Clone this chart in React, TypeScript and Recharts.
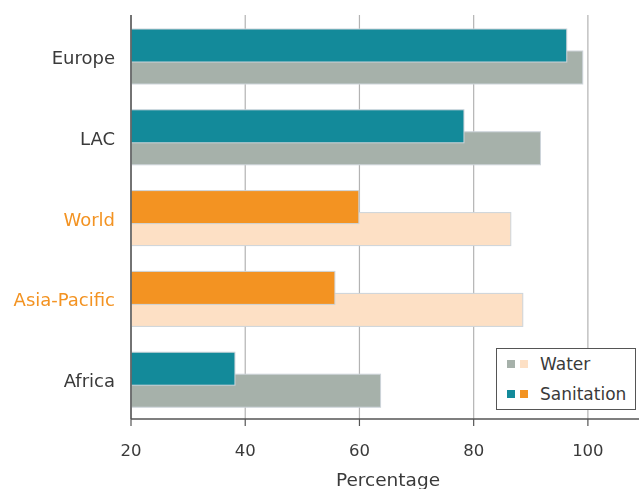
import React from 'react';
import { BarChart, Bar, XAxis, YAxis, CartesianGrid } from 'recharts';

const regions = ['Europe', 'LAC', 'World', 'Asia-Pacific', 'Africa'];
const sanitation = [96.3, 78.3, 59.9, 55.7, 38.2];
const water = [99.1, 91.7, 86.5, 88.6, 63.7];
const highlighted = ['World', 'Asia-Pacific'];
const xTicks = [20, 40, 60, 80, 100];

const data = regions.map((region, i) => ({
  region,
  sanitation: sanitation[i],
  water: water[i],
}));

const FONT = '"DejaVu Sans", sans-serif';
const TEXT = '#3a3a3a';
const ORANGE = '#f39322';
const TEAL = '#138a9a';
const GRAY = '#a6b1aa';
const PEACH = '#fde0c5';
const BORDER = '#cdd4da';

// Both series share the same slot in the band; each is nudged vertically so
// the sanitation bar sits above and overlaps the water bar.
const makeShape = (dy: number, normal: string, hi: string) => (props: any) => {
  const { x, y, width, height, payload } = props;
  const fill = highlighted.includes(payload.region) ? hi : normal;
  return (
    <rect
      x={x}
      y={y + dy}
      width={width}
      height={height}
      fill={fill}
      stroke={BORDER}
      strokeWidth={1}
    />
  );
};

const RegionTick = (props: any) => {
  const { x, y, payload } = props;
  const color = highlighted.includes(payload.value) ? ORANGE : TEXT;
  return (
    <text
      x={x}
      y={y + 2}
      textAnchor="end"
      dominantBaseline="central"
      fill={color}
      fontSize={18}
      fontFamily={FONT}
    >
      {payload.value}
    </text>
  );
};

const swatch = (c: string) => (
  <span style={{ display: 'inline-block', width: 8, height: 8, background: c, marginRight: 5 }} />
);

export default function App() {
  return (
    <div
      style={{
        position: 'fixed',
        left: 0,
        top: 0,
        width: 639,
        height: 489,
        overflow: 'hidden',
      }}
    >
      <div style={{ position: 'absolute', left: 8, top: 8 }}>
        <BarChart
          width={637}
          height={481}
          data={data}
          layout="vertical"
          margin={{ top: 7, right: 0, bottom: 0, left: 0 }}
          barGap={-33}
        >
          <CartesianGrid horizontal={false} stroke="#b3b3b3" strokeWidth={1.2} />
          <XAxis
            type="number"
            domain={[20, 110]}
            ticks={xTicks}
            height={70}
            axisLine={{ stroke: '#555', strokeWidth: 1.5 }}
            tickLine={{ stroke: '#555', strokeWidth: 1.2 }}
            tickSize={7}
            tickMargin={18}
            tick={{ fill: TEXT, fontSize: 16.5, fontFamily: FONT }}
            label={{
              value: 'Percentage',
              position: 'insideBottom',
              offset: 3,
              fill: TEXT,
              fontSize: 18.5,
              fontFamily: FONT,
            }}
          />
          <YAxis
            type="category"
            dataKey="region"
            width={123}
            axisLine={{ stroke: '#555', strokeWidth: 1.5 }}
            tickLine={false}
            tickSize={0}
            tickMargin={16}
            tick={<RegionTick />}
          />
          <Bar
            dataKey="water"
            barSize={33}
            isAnimationActive={false}
            shape={makeShape(12, GRAY, PEACH)}
          />
          <Bar
            dataKey="sanitation"
            barSize={33}
            isAnimationActive={false}
            shape={makeShape(-10, TEAL, ORANGE)}
          />
        </BarChart>
        <div
          style={{
            position: 'absolute',
            left: 488,
            top: 340,
            width: 140,
            height: 62,
            border: '1.5px solid #555',
            background: '#fff',
            fontFamily: FONT,
            fontSize: 17,
            color: TEXT,
            boxSizing: 'border-box',
            padding: '0 0 0 10px',
            lineHeight: '30px',
          }}
        >
          <div style={{ display: 'flex', alignItems: 'center' }}>
            {swatch(GRAY)}
            {swatch(PEACH)}
            <span style={{ marginLeft: 7 }}>Water</span>
          </div>
          <div style={{ display: 'flex', alignItems: 'center' }}>
            {swatch(TEAL)}
            {swatch(ORANGE)}
            <span style={{ marginLeft: 7 }}>Sanitation</span>
          </div>
        </div>
      </div>
    </div>
  );
}
